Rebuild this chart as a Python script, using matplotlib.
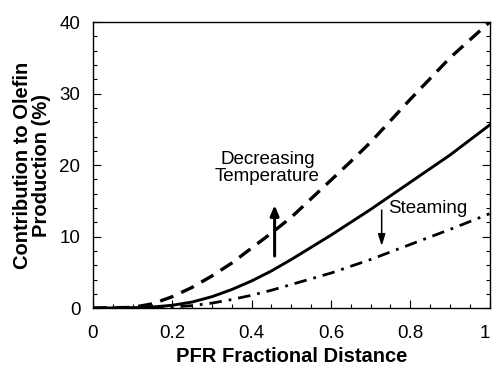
import matplotlib
matplotlib.use("Agg")
import matplotlib.pyplot as plt
from matplotlib.ticker import MultipleLocator, FixedLocator, FixedFormatter

plt.rcParams['font.family'] = ['Liberation Sans', 'DejaVu Sans']

# Data
x_dash = [0, 0.1, 0.15, 0.2, 0.25, 0.3, 0.35, 0.4, 0.45, 0.5, 0.55, 0.6, 0.65, 0.7, 0.8, 0.9, 1.0]
y_dash = [0, 0.1, 0.6, 1.6, 2.9, 4.5, 6.3, 8.4, 10.5, 12.7, 15.3, 17.9, 20.5, 23.2, 29.2, 35.0, 40.0]

x_solid = [0, 0.1, 0.15, 0.2, 0.25, 0.3, 0.35, 0.4, 0.45, 0.5, 0.55, 0.6, 0.7, 0.8, 0.9, 1.0]
y_solid = [0, 0.05, 0.15, 0.4, 0.85, 1.6, 2.6, 3.8, 5.2, 6.8, 8.5, 10.2, 13.8, 17.6, 21.4, 25.6]

x_dashdot = [0, 0.1, 0.2, 0.25, 0.3, 0.35, 0.4, 0.45, 0.5, 0.6, 0.7, 0.8, 0.9, 1.0]
y_dashdot = [0, 0.0, 0.15, 0.35, 0.7, 1.2, 1.8, 2.5, 3.3, 4.9, 6.8, 8.9, 11.0, 13.2]

x_ticks = [0, 0.2, 0.4, 0.6, 0.8, 1.0]
x_ticklabels = ["0", "0.2", "0.4", "0.6", "0.8", "1"]
y_ticks = [0, 10, 20, 30, 40]
y_ticklabels = ["0", "10", "20", "30", "40"]

fig = plt.figure(figsize=(4.92, 3.69), dpi=100)
ax = fig.add_axes([0.189, 0.165, 0.806, 0.775])

ax.plot(x_dash, y_dash, color='black', lw=2.4, dashes=(4.2, 2.6))
ax.plot(x_solid, y_solid, color='black', lw=2.1)
ax.plot(x_dashdot, y_dashdot, color='black', lw=2.0, dashes=(4.5, 2.5, 1.0, 2.5))

ax.set_xlim(0, 1)
ax.set_ylim(0, 40)

ax.xaxis.set_major_locator(FixedLocator(x_ticks))
ax.xaxis.set_major_formatter(FixedFormatter(x_ticklabels))
ax.yaxis.set_major_locator(FixedLocator(y_ticks))
ax.yaxis.set_major_formatter(FixedFormatter(y_ticklabels))
ax.xaxis.set_minor_locator(MultipleLocator(0.05))
ax.yaxis.set_minor_locator(MultipleLocator(2))

ax.tick_params(which='both', direction='in', right=True, top=False, width=0.8)
ax.tick_params(which='major', length=6)
ax.tick_params(which='minor', length=3)
ax.tick_params(axis='x', which='major', pad=12, labelsize=13.5)
ax.tick_params(axis='y', which='major', pad=9, labelsize=13.5)
for s in ax.spines.values():
    s.set_linewidth(1.0)

fig.canvas.draw()
xl = ax.get_xticklabels()
xl[-1].set_horizontalalignment('right')
xl[-1].set_x(1.0)

ax.set_xlabel("PFR Fractional Distance", fontsize=14.5, fontweight='bold', labelpad=4)
ax.set_ylabel("Contribution to Olefin\nProduction (%)", fontsize=14.5,
              fontweight='bold', labelpad=6, linespacing=1.0)

ax.text(0.44, 19.6, "Decreasing\nTemperature", fontsize=13.5, ha='center',
        va='center', linespacing=0.95)
ax.annotate("", xy=(0.458, 14.8), xytext=(0.458, 6.9),
            arrowprops=dict(arrowstyle='-|>,head_length=0.6,head_width=0.25',
                            color='black', lw=2.2))
ax.text(0.743, 13.9, "Steaming", fontsize=13.5, ha='left', va='center')
ax.annotate("", xy=(0.728, 8.3), xytext=(0.728, 14.1),
            arrowprops=dict(arrowstyle='-|>,head_length=0.7,head_width=0.22',
                            color='black', lw=1.1))

fig.savefig("out.png", dpi=100)
